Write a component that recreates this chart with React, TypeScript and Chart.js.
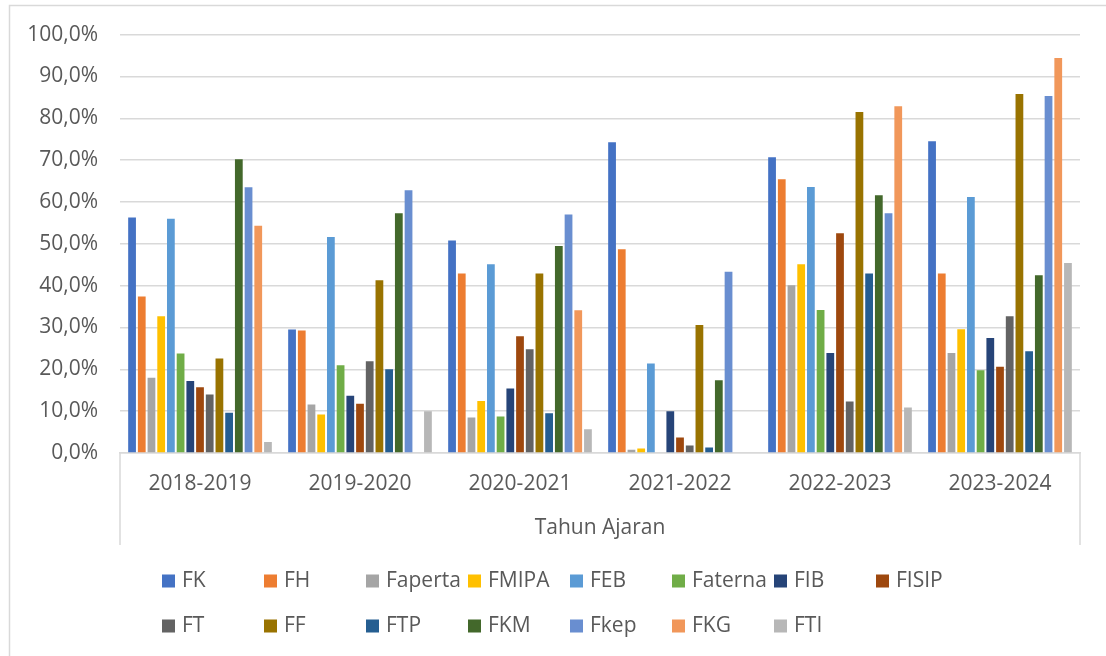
import React, { useEffect, useRef } from "react";
import { Chart, registerables } from "chart.js";

Chart.register(...registerables);

const categories = ["2018-2019", "2019-2020", "2020-2021", "2021-2022", "2022-2023", "2023-2024"];

const seriesNames = ["FK", "FH", "Faperta", "FMIPA", "FEB", "Faterna", "FIB", "FISIP", "FT", "FF", "FTP", "FKM", "Fkep", "FKG", "FTI"];

const FK = [56.3, 29.5, 50.8, 74.3, 70.7, 74.5];
const FH = [37.4, 29.3, 42.9, 48.7, 65.4, 42.9];
const Faperta = [18.0, 11.6, 8.5, 0.8, 40.1, 23.9];
const FMIPA = [32.7, 9.2, 12.4, 1.1, 45.1, 29.6];
const FEB = [56.0, 51.6, 45.1, 21.4, 63.6, 61.2];
const Faterna = [23.8, 21.0, 8.7, 0, 34.2, 19.8];
const FIB = [17.2, 13.7, 15.4, 10.0, 23.9, 27.5];
const FISIP = [15.7, 11.8, 27.9, 3.7, 52.5, 20.6];
const FT = [14.0, 21.9, 24.8, 1.8, 12.3, 32.7];
const FF = [22.6, 41.3, 42.9, 30.6, 81.5, 85.8];
const FTP = [9.6, 20.0, 9.5, 1.3, 42.9, 24.3];
const FKM = [70.2, 57.3, 49.5, 17.4, 61.6, 42.5];
const Fkep = [63.5, 62.8, 57.0, 43.3, 57.3, 85.3];
const FKG = [54.3, 0, 34.1, 0, 82.9, 94.4];
const FTI = [2.6, 10.0, 5.7, 0, 10.9, 45.4];

const seriesValues = [FK, FH, Faperta, FMIPA, FEB, Faterna, FIB, FISIP, FT, FF, FTP, FKM, Fkep, FKG, FTI];

const seriesColors = [
  "#4472C4", "#ED7D31", "#A5A5A5", "#FFC000", "#5B9BD5", "#70AD47", "#264478", "#9E480E",
  "#636363", "#997300", "#255E91", "#43682B", "#698ED0", "#F1975A", "#B7B7B7",
];

const yTicks = [0, 10, 20, 30, 40, 50, 60, 70, 80, 90, 100];

const FONT = "'Open Sans', sans-serif";
const TEXT_COLOR = "#595959";
const GRID_COLOR = "#d9d9d9";

const decorPlugin = {
  id: "decor",
  afterDraw(chart: any) {
    const ctx = chart.ctx;
    const area = chart.chartArea;
    ctx.save();
    // outer frame
    ctx.strokeStyle = GRID_COLOR;
    ctx.lineWidth = 1.5;
    ctx.beginPath();
    ctx.moveTo(9.5, 656);
    ctx.lineTo(9.5, 5.5);
    ctx.lineTo(1106, 5.5);
    ctx.stroke();
    // category box side lines
    const xs = chart.scales.x;
    ctx.beginPath();
    ctx.moveTo(area.left, area.bottom);
    ctx.lineTo(area.left, xs.bottom + 4);
    ctx.moveTo(area.right, area.bottom);
    ctx.lineTo(area.right, xs.bottom + 4);
    ctx.stroke();
    // legend
    ctx.font = "21px " + FONT;
    ctx.textBaseline = "middle";
    ctx.textAlign = "left";
    chart.data.datasets.forEach((ds: any, i: number) => {
      const row = Math.floor(i / 8);
      const col = i % 8;
      const x = 162 + col * 102;
      const y = 581 + row * 45;
      ctx.fillStyle = ds.backgroundColor;
      ctx.fillRect(x, y - 6.5, 13, 13);
      ctx.fillStyle = TEXT_COLOR;
      ctx.fillText(ds.label, x + 20, y);
    });
    ctx.restore();
  },
};

export default function App() {
  const ref = useRef<HTMLCanvasElement>(null);

  useEffect(() => {
    const canvas = ref.current;
    if (!canvas) return;
    const chart = new Chart(canvas, {
      type: "bar",
      data: {
        labels: categories,
        datasets: seriesNames.map((name, i) => ({
          label: name,
          data: seriesValues[i],
          backgroundColor: seriesColors[i],
          borderWidth: 0,
          categoryPercentage: 0.91,
          barPercentage: 0.8,
        })),
      },
      options: {
        responsive: false,
        animation: false,
        devicePixelRatio: 1,
        layout: { padding: { left: 0, top: 34, right: 26, bottom: 115 } },
        plugins: {
          legend: { display: false },
          tooltip: { enabled: false },
        },
        scales: {
          x: {
            grid: { display: false, drawTicks: false },
            border: { display: true, color: GRID_COLOR, width: 1.5 },
            ticks: { color: TEXT_COLOR, font: { family: FONT, size: 21 }, padding: 18, maxRotation: 0 },
            title: {
              display: true,
              text: "Tahun Ajaran",
              color: TEXT_COLOR,
              font: { family: FONT, size: 21 },
              padding: { top: 0, bottom: 0 },
            },
            afterFit: (s: any) => {
              s.height = 88;
            },
          },
          y: {
            min: 0,
            max: 100,
            afterBuildTicks: (s: any) => {
              s.ticks = yTicks.map((v) => ({ value: v }));
            },
            grid: { color: GRID_COLOR, lineWidth: 1.5, drawTicks: false },
            border: { display: false },
            ticks: {
              color: TEXT_COLOR,
              font: { family: FONT, size: 21 },
              padding: 22,
              callback: (v: any) => Number(v).toFixed(1).replace(".", ",") + "%",
            },
            afterFit: (s: any) => {
              s.width = 120;
            },
          },
        },
      },
      plugins: [decorPlugin],
    });
    return () => chart.destroy();
  }, []);

  return (
    <div style={{ position: "absolute", left: 0, top: 0, width: 1106, height: 656, background: "#fff" }}>
      <canvas ref={ref} width={1106} height={656} style={{ display: "block", width: 1106, height: 656 }} />
    </div>
  );
}
